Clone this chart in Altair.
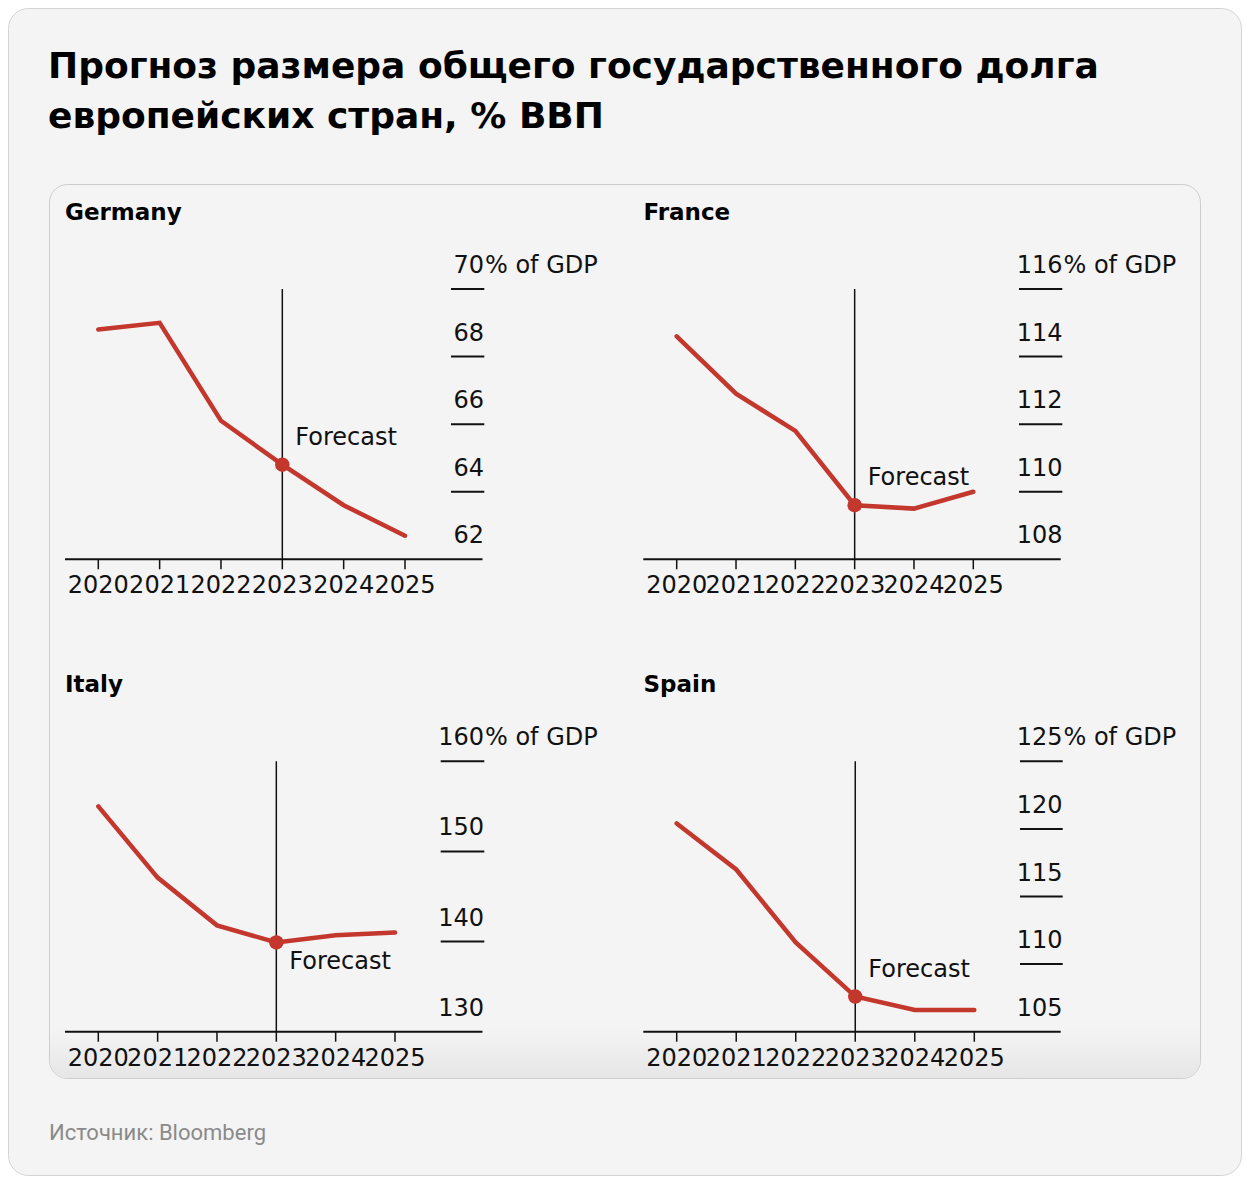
import altair as alt
import pandas as pd

# ---------------- data ----------------
YEARS = [2020, 2021, 2022, 2023, 2024, 2025]
COUNTRIES = ["Germany", "France", "Italy", "Spain"]
GERMANY = [68.8, 69.0, 66.1, 64.8, 63.6, 62.7]
FRANCE = [114.6, 112.9, 111.8, 109.6, 109.5, 110.0]
ITALY = [155.0, 147.1, 141.8, 139.9, 140.7, 141.0]
SPAIN = [120.4, 117.0, 111.6, 107.6, 106.6, 106.6]
TICKS_GERMANY = [62, 64, 66, 68, 70]
TICKS_FRANCE = [108, 110, 112, 114, 116]
TICKS_ITALY = [130, 140, 150, 160]
TICKS_SPAIN = [105, 110, 115, 120, 125]
FORECAST_YEAR = 2023
FORECAST_LABEL = "Forecast"
UNIT_SUFFIX = "% of GDP"
TITLE_LINES = ["Прогноз размера общего государственного долга",
               "европейских стран, % ВВП"]
SOURCE = "Источник: Bloomberg"

SERIES = {"Germany": (GERMANY, TICKS_GERMANY), "France": (FRANCE, TICKS_FRANCE),
          "Italy": (ITALY, TICKS_ITALY), "Spain": (SPAIN, TICKS_SPAIN)}

# ---------------- styles / layout (pixels in the boxed view) ----------------
RED = "#c3372d"
INK = "#111111"
FONT = "DejaVu Sans"
W, H = 1152, 895

LAYOUT = {
    "Germany": dict(xr=(49.3, 356.0), yr=(375.3, 105.0), axis=(16, 433.5), tick=(402, 435.3),
                    lab=435, tx=16, ty=36, fdy=-20),
    "France": dict(xr=(627.7, 924.3), yr=(375.3, 105.0), axis=(594.3, 1011.7), tick=(970, 1013.3),
                   lab=1013.5, tx=594.5, ty=36, fdy=-20),
    "Italy": dict(xr=(49.3, 346.0), yr=(847.7, 577.3), axis=(16, 433.5), tick=(391.7, 435.3),
                  lab=435, tx=16, ty=507.7, fdy=27),
    "Spain": dict(xr=(627.7, 925.3), yr=(847.7, 577.3), axis=(594.3, 1011.7), tick=(971, 1013.7),
                  lab=1013.5, tx=594.5, ty=507.7, fdy=-20),
}

one = pd.DataFrame({"k": [0]})


def panel(name):
    values, ticks = SERIES[name]
    lay = LAYOUT[name]
    lo, hi = min(ticks), max(ticks)
    y0, y1 = lay["yr"]
    xs = alt.Scale(domain=[YEARS[0], YEARS[-1]], range=list(lay["xr"]), nice=False, zero=False)
    ys = alt.Scale(domain=[lo, hi], range=[y0, y1], nice=False, zero=False)

    df = pd.DataFrame({"year": YEARS, "value": values})
    fc = pd.DataFrame({"year": [FORECAST_YEAR], "value": [values[YEARS.index(FORECAST_YEAR)]],
                       "top": [hi], "bottom": [lo], "label": [FORECAST_LABEL]})
    tk = pd.DataFrame({"tick": ticks})
    tk_lines = pd.DataFrame({"tick": [t for t in ticks if t != lo]})
    tk_top = pd.DataFrame({"tick": [hi], "suffix": [UNIT_SUFFIX]})
    yrs = pd.DataFrame({"year": YEARS})
    ttl = pd.DataFrame({"name": [name]})

    baseline = alt.Chart(one).mark_rule(color=INK, strokeWidth=2).encode(
        x=alt.value(lay["axis"][0]), x2=alt.value(lay["axis"][1]), y=alt.value(y0))
    yticks = alt.Chart(yrs).mark_rule(color=INK, strokeWidth=1.5).encode(
        x=alt.X("year:Q", scale=xs, axis=None), y=alt.value(y0), y2=alt.value(y0 + 10))
    ylabels = alt.Chart(yrs).mark_text(font=FONT, fontSize=24, color=INK, align="center",
                                       baseline="alphabetic").encode(
        x=alt.X("year:Q", scale=xs, axis=None), y=alt.value(y0 + 34),
        text=alt.Text("year:Q", format="d"))
    tlines = alt.Chart(tk_lines).mark_rule(color=INK, strokeWidth=2).encode(
        y=alt.Y("tick:Q", scale=ys, axis=None), x=alt.value(lay["tick"][0]), x2=alt.value(lay["tick"][1]))
    tlabels = alt.Chart(tk).mark_text(font=FONT, fontSize=24, color=INK, align="right",
                                      baseline="alphabetic", dy=-16).encode(
        y=alt.Y("tick:Q", scale=ys, axis=None), x=alt.value(lay["lab"]),
        text=alt.Text("tick:Q", format="d"))
    tsuffix = alt.Chart(tk_top).mark_text(font=FONT, fontSize=24, color=INK, align="left",
                                          baseline="alphabetic", dy=-16).encode(
        y=alt.Y("tick:Q", scale=ys, axis=None), x=alt.value(lay["lab"] + 1), text="suffix:N")
    vrule = alt.Chart(fc).mark_rule(color=INK, strokeWidth=1.5).encode(
        x=alt.X("year:Q", scale=xs, axis=None),
        y=alt.Y("top:Q", scale=ys, axis=None), y2="bottom:Q")
    line = alt.Chart(df).mark_line(color=RED, strokeWidth=4.5, strokeCap="round").encode(
        x=alt.X("year:Q", scale=xs, axis=None), y=alt.Y("value:Q", scale=ys, axis=None))
    dot = alt.Chart(fc).mark_circle(color=RED, size=210, opacity=1).encode(
        x=alt.X("year:Q", scale=xs, axis=None), y=alt.Y("value:Q", scale=ys, axis=None))
    fctext = alt.Chart(fc).mark_text(font=FONT, fontSize=24, color=INK, align="left",
                                     baseline="alphabetic", dx=13, dy=lay["fdy"]).encode(
        x=alt.X("year:Q", scale=xs, axis=None), y=alt.Y("value:Q", scale=ys, axis=None),
        text="label:N")
    title = alt.Chart(ttl).mark_text(font=FONT, fontSize=23, fontWeight="bold", color="#000000",
                                     align="left", baseline="alphabetic").encode(
        x=alt.value(lay["tx"]), y=alt.value(lay["ty"]), text="name:N")
    return alt.layer(baseline, yticks, ylabels, tlines, tlabels, tsuffix, vrule, line, dot,
                     fctext, title)


frame = alt.Chart(one).mark_rect(cornerRadius=20, fill="#f4f4f4", stroke="#d4d4d4",
                                 strokeWidth=1).encode(
    x=alt.value(-40.5), x2=alt.value(W + 40.5), y=alt.value(-175.5), y2=alt.value(H + 96.5))
box = alt.Chart(one).mark_rect(cornerRadius=18, fill="#f4f4f4", stroke="#cdcdcd",
                               strokeWidth=1).encode(
    x=alt.value(0.5), x2=alt.value(W - 0.5), y=alt.value(0.5), y2=alt.value(H - 0.5))
shade = alt.Chart(one).mark_rect(
    cornerRadiusBottomLeft=17, cornerRadiusBottomRight=17,
    color=alt.Gradient(gradient="linear",
                       stops=[alt.GradientStop(color="#f4f4f4", offset=0),
                              alt.GradientStop(color="#e6e6e6", offset=1)],
                       x1=0, x2=0, y1=0, y2=1)).encode(
    x=alt.value(1), x2=alt.value(W - 1), y=alt.value(H - 50), y2=alt.value(H - 1))

title = alt.Chart(pd.DataFrame({"t": ["\n".join(TITLE_LINES)]})).mark_text(
    font=FONT, fontSize=36, fontWeight="bold", color="#000000", align="left",
    baseline="alphabetic", lineBreak="\n", lineHeight=50.6).encode(
    x=alt.value(-1), y=alt.value(-106.3), text="t:N")
source = alt.Chart(pd.DataFrame({"s": [SOURCE]})).mark_text(
    font="Roboto", fontSize=22, color="#8a8a8a", align="left", baseline="alphabetic").encode(
    x=alt.value(0), y=alt.value(956), text="s:N")

chart = alt.layer(frame, box, shade, *[panel(c) for c in COUNTRIES], title, source).resolve_scale(
    x="independent", y="independent"
).properties(
    width=W, height=H,
    autosize=alt.AutoSizeParams(type="none"),
    padding={"left": 41, "top": 176, "right": 41, "bottom": 97},
    background="#ffffff",
).configure_view(strokeWidth=0)

chart.save("out.html", embed_options={"renderer": "svg", "actions": False})
